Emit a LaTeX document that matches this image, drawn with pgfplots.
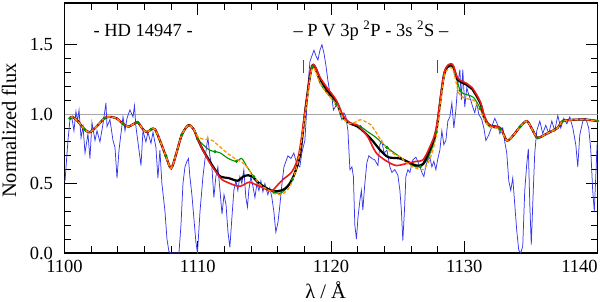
\documentclass[border=0pt]{standalone}
\usepackage{fontspec}
\setmainfont{Liberation Serif}
\usepackage{pgfplots}
\pgfplotsset{compat=1.18}
\definecolor{obsblue}{RGB}{55,55,235}
\definecolor{modred}{RGB}{235,25,25}
\definecolor{modgreen}{RGB}{0,145,0}
\definecolor{modorange}{RGB}{255,150,0}
\newcommand{\fs}{\fontsize{18.5bp}{21bp}\selectfont}
\newcommand{\fl}{\fontsize{20.5bp}{23bp}\selectfont}
\begin{document}
\begin{tikzpicture}
\begin{axis}[
  scale only axis, width=533bp, height=250bp,
  xmin=1100, xmax=1140, ymin=0, ymax=1.8,
  xtick={1100,1110,1120,1130}, minor x tick num=4,
  extra x ticks={1140}, extra x tick labels={1140},
  extra x tick style={tick label style={xshift=-18bp}},
  ytick={0,0.5,1.0,1.5}, minor y tick num=4,
  tick align=inside, tick pos=both,
  major tick length=12bp, minor tick length=6.5bp,
  every tick/.style={black, line width=0.9bp},
  axis line style={line width=1.1bp},
  /pgf/number format/assume math mode=true,
  /pgf/number format/1000 sep={},
  yticklabel style={/pgf/number format/fixed, /pgf/number format/precision=1, /pgf/number format/fixed zerofill, font=\fs, xshift=-8bp},
  xticklabel style={font=\fs, yshift=-4bp},
  xlabel={λ / Å}, ylabel={Normalized flux},
  every axis x label/.style={at={(axis description cs:0.49,0)}, anchor=center, yshift=-37bp, font=\fl},
  every axis y label/.style={at={(axis description cs:-0.104,0.49)}, anchor=center, rotate=90, font=\fl},
]
% continuum
\addplot[gray!70, line width=0.7bp] coordinates {(1100,1) (1140,1)};
% line markers
\addplot[gray!60!black, line width=0.7bp] coordinates {(1117.96,1.295) (1117.96,1.39)};
\addplot[gray!60!black, line width=0.7bp] coordinates {(1128.0,1.295) (1128.0,1.39)};
% observed
\addplot[obsblue, line width=0.75bp] coordinates {
(1100.04,0.52) (1100.26,0.81) (1100.41,0.96) (1100.56,0.97) (1100.71,0.88) (1100.86,1.02) (1100.98,0.95) (1101.09,1.03)
(1101.24,0.83) (1101.39,0.91) (1101.54,0.72) (1101.76,0.86) (1101.91,0.68) (1102.06,0.94) (1102.29,0.81) (1102.44,0.88)
(1102.66,0.80) (1102.89,0.93) (1103.11,1.08) (1103.19,0.91) (1103.41,0.96) (1103.64,0.81) (1103.79,0.76) (1103.94,0.54)
(1104.09,0.74) (1104.20,0.83) (1104.39,0.98) (1104.54,0.88) (1104.69,0.97) (1104.91,1.03) (1105.14,0.98) (1105.25,1.06)
(1105.36,0.91) (1105.51,0.80) (1105.74,0.63) (1105.89,0.88) (1106.11,0.80) (1106.26,0.87) (1106.49,0.79) (1106.64,0.87)
(1106.86,0.76) (1107.01,0.54) (1107.16,0.74) (1107.31,0.50) (1107.54,0.30) (1107.69,0.10) (1107.84,0.01) (1107.99,0.0)
(1108.29,0.0) (1108.59,0.0) (1108.74,0.2) (1108.89,0.50) (1109.04,0.62) (1109.19,0.66) (1109.30,0.68) (1109.41,0.55)
(1109.56,0.42) (1109.71,0.25) (1109.86,0.08) (1109.98,0.0) (1110.17,0.30) (1110.39,0.55) (1110.61,0.73) (1110.76,0.83)
(1110.91,0.70) (1111.06,0.62) (1111.21,0.40) (1111.36,0.55) (1111.51,0.62) (1111.67,0.45) (1111.82,0.28) (1111.97,0.42)
(1112.12,0.35) (1112.27,0.15) (1112.41,0.04) (1112.56,0.25) (1112.71,0.45) (1112.86,0.52) (1113.01,0.45) (1113.16,0.55)
(1113.31,0.50) (1113.46,0.60) (1113.61,0.40) (1113.73,0.33) (1113.84,0.46) (1113.99,0.55) (1114.14,0.48) (1114.29,0.40)
(1114.44,0.50) (1114.59,0.45) (1114.74,0.52) (1114.89,0.44) (1115.04,0.50) (1115.26,0.42) (1115.41,0.47) (1115.56,0.40)
(1115.71,0.30) (1115.86,0.15) (1116.02,0.22) (1116.17,0.35) (1116.32,0.50) (1116.47,0.62) (1116.62,0.66) (1116.77,0.70)
(1116.99,0.68) (1117.21,0.72) (1117.44,0.64) (1117.66,0.62) (1117.81,0.72) (1118.04,0.81) (1118.19,1.05) (1118.30,1.24)
(1118.42,1.38) (1118.57,1.42) (1118.72,1.46) (1118.87,1.42) (1119.02,1.39) (1119.17,1.46) (1119.32,1.50) (1119.47,1.44)
(1119.62,1.35) (1119.77,1.24) (1119.92,1.15) (1120.07,1.12) (1120.18,1.03) (1120.37,1.06) (1120.52,1.05) (1120.67,1.00)
(1120.82,0.96) (1120.97,1.01) (1121.12,0.98) (1121.27,0.88) (1121.42,0.60) (1121.57,0.62) (1121.68,0.55) (1121.79,0.20)
(1121.91,0.10) (1122.02,0.25) (1122.17,0.38) (1122.28,0.45) (1122.39,0.31) (1122.54,0.50) (1122.69,0.65) (1122.84,0.70)
(1123.07,0.68) (1123.29,0.67) (1123.52,0.63) (1123.67,0.78) (1123.82,0.81) (1123.97,0.72) (1124.20,0.74) (1124.42,0.62)
(1124.57,0.58) (1124.79,0.60) (1125.02,0.56) (1125.17,0.45) (1125.28,0.31) (1125.39,0.09) (1125.51,0.30) (1125.62,0.55)
(1125.77,0.60) (1125.92,0.58) (1126.14,0.67) (1126.37,0.69) (1126.59,0.64) (1126.82,0.58) (1126.97,0.55) (1127.12,0.63)
(1127.27,0.67) (1127.42,0.69) (1127.57,0.62) (1127.72,0.66) (1127.87,0.60) (1128.02,0.68) (1128.17,0.74) (1128.32,0.88)
(1128.47,0.78) (1128.62,0.81) (1128.77,0.95) (1128.92,0.98) (1129.07,1.08) (1129.22,0.90) (1129.37,1.03) (1129.52,1.22)
(1129.67,1.32) (1129.78,1.10) (1129.89,1.32) (1130.04,1.05) (1130.19,1.19) (1130.34,1.14) (1130.49,1.10) (1130.64,1.05)
(1130.79,1.01) (1130.94,1.08) (1131.09,1.00) (1131.32,0.96) (1131.47,0.90) (1131.62,0.81) (1131.84,0.85) (1132.07,0.91)
(1132.29,0.97) (1132.52,0.92) (1132.67,0.86) (1132.89,0.90) (1133.04,0.80) (1133.19,0.72) (1133.34,0.52) (1133.49,0.45)
(1133.64,0.54) (1133.79,0.35) (1133.94,0.16) (1134.09,0.02) (1134.24,0.0) (1134.39,0.05) (1134.54,0.45) (1134.69,0.64)
(1134.81,0.75) (1134.92,0.35) (1135.03,0.06) (1135.14,0.35) (1135.29,0.72) (1135.44,0.88) (1135.67,0.95) (1135.89,0.86)
(1136.12,0.92) (1136.34,0.86) (1136.57,0.95) (1136.79,0.88) (1137.02,0.99) (1137.24,0.90) (1137.47,0.97) (1137.70,0.93)
(1137.92,0.98) (1138.15,0.90) (1138.37,0.78) (1138.52,0.62) (1138.67,0.85) (1138.90,0.95) (1139.12,0.97) (1139.34,0.90)
(1139.49,0.75) (1139.64,0.45) (1139.76,0.30) (1139.87,0.55) (1139.98,0.80)
};
% green model
\addplot[modgreen, line width=1.1bp, smooth, mark=*, mark size=1bp, mark repeat=3] coordinates {
(1100.4,0.97) (1100.6,0.98) (1101.0,0.95) (1101.5,0.89) (1101.9,0.87) (1102.4,0.91) (1103.0,0.97) (1103.4,0.98)
(1103.9,0.97) (1104.4,0.93) (1104.8,0.91) (1105.2,0.93) (1105.5,0.94) (1105.9,0.89) (1106.2,0.87) (1106.5,0.89)
(1106.8,0.89) (1107.2,0.80) (1107.6,0.70) (1108.0,0.61) (1108.4,0.72) (1108.8,0.85) (1109.3,0.92) (1109.7,0.89)
(1110.0,0.82) (1110.4,0.78) (1110.9,0.74) (1111.3,0.73) (1111.7,0.72) (1112.3,0.68) (1112.9,0.66) (1113.3,0.68)
(1113.7,0.62) (1114.2,0.55) (1114.7,0.50) (1115.2,0.47) (1115.7,0.44) (1116.2,0.43) (1116.7,0.47) (1117.1,0.53)
(1117.6,0.70) (1118.1,1.03) (1118.6,1.34) (1119.2,1.22) (1119.7,1.15) (1120.4,1.07) (1120.9,0.97) (1121.4,0.93)
(1122.2,0.91) (1122.8,0.87) (1123.4,0.83) (1124.2,0.76) (1125.2,0.69) (1126.1,0.63) (1126.7,0.62) (1127.2,0.67)
(1127.6,0.76) (1127.9,0.87) (1128.5,1.28) (1129.1,1.34) (1129.7,1.17) (1130.2,1.14) (1130.7,1.12) (1131.2,1.04)
(1131.5,0.96) (1131.9,0.91) (1132.7,0.89) (1133.2,0.81) (1133.7,0.85) (1134.2,0.91) (1134.7,0.95) (1135.1,0.89)
(1135.5,0.83) (1136.2,0.86) (1137.0,0.90) (1137.4,0.95) (1138.4,0.96) (1139.2,0.96) (1140.0,0.95)
};
% black model
\addplot[black, line width=2.2bp, smooth] coordinates {
(1100.4,0.97) (1100.6,0.98) (1101.0,0.95) (1101.5,0.89) (1101.9,0.87) (1102.4,0.91) (1103.0,0.97) (1103.4,0.98)
(1103.9,0.97) (1104.4,0.93) (1104.8,0.91) (1105.2,0.93) (1105.5,0.94) (1105.9,0.89) (1106.2,0.87) (1106.5,0.89)
(1106.8,0.89) (1107.2,0.80) (1107.6,0.70) (1108.0,0.61) (1108.4,0.72) (1108.8,0.85) (1109.3,0.92) (1109.7,0.89)
(1110.0,0.82) (1110.4,0.74) (1110.9,0.66) (1111.3,0.60) (1111.7,0.55) (1112.3,0.54) (1113.0,0.52) (1113.4,0.55)
(1113.8,0.56) (1114.1,0.55) (1114.5,0.51) (1114.9,0.48) (1115.5,0.45) (1116.0,0.445) (1116.5,0.46) (1116.9,0.50)
(1117.3,0.58) (1117.7,0.72) (1118.1,1.05) (1118.6,1.35) (1119.2,1.25) (1119.7,1.17) (1120.4,1.09) (1120.9,0.98)
(1121.4,0.935) (1122.0,0.91) (1122.5,0.87) (1123.1,0.81) (1123.7,0.74) (1124.3,0.69) (1125.2,0.68) (1125.9,0.65)
(1126.4,0.63) (1126.9,0.64) (1127.4,0.74) (1127.9,0.88) (1128.5,1.29) (1129.1,1.35) (1129.5,1.25) (1130.2,1.21)
(1130.6,1.18) (1131.2,1.08) (1131.5,0.98) (1131.9,0.92) (1132.7,0.90) (1133.2,0.81) (1133.7,0.85) (1134.2,0.91)
(1134.7,0.95) (1135.1,0.89) (1135.5,0.83) (1136.2,0.86) (1137.0,0.90) (1137.4,0.95) (1138.4,0.96) (1139.2,0.96) (1140.0,0.95)
};
% red model
\addplot[modred, line width=1.6bp, smooth] coordinates {
(1100.4,0.97) (1100.6,0.98) (1101.0,0.95) (1101.5,0.89) (1101.9,0.87) (1102.4,0.91) (1103.0,0.97) (1103.4,0.98)
(1103.9,0.97) (1104.4,0.93) (1104.8,0.91) (1105.2,0.93) (1105.5,0.94) (1105.9,0.89) (1106.2,0.87) (1106.5,0.89)
(1106.8,0.89) (1107.2,0.80) (1107.6,0.70) (1108.0,0.61) (1108.4,0.72) (1108.8,0.85) (1109.3,0.92) (1109.7,0.89)
(1110.0,0.82) (1110.4,0.74) (1110.9,0.65) (1111.4,0.58) (1111.8,0.53) (1112.2,0.51) (1112.7,0.49) (1113.2,0.48)
(1113.6,0.50) (1113.9,0.51) (1114.4,0.49) (1114.9,0.47) (1115.3,0.45) (1115.6,0.45) (1116.0,0.49) (1116.4,0.53)
(1117.1,0.59) (1117.6,0.72) (1118.1,1.05) (1118.6,1.35) (1119.2,1.26) (1119.7,1.19) (1120.4,1.10) (1120.9,0.99)
(1121.4,0.94) (1122.0,0.92) (1122.4,0.88) (1122.8,0.83) (1123.4,0.72) (1124.2,0.66) (1124.9,0.63) (1125.7,0.645)
(1126.4,0.66) (1126.9,0.67) (1127.4,0.76) (1127.9,0.90) (1128.5,1.30) (1129.1,1.36) (1129.5,1.26) (1130.2,1.22)
(1130.6,1.19) (1131.2,1.09) (1131.5,0.99) (1131.9,0.92) (1132.7,0.90) (1133.2,0.81) (1133.7,0.85) (1134.2,0.91)
(1134.7,0.95) (1135.1,0.89) (1135.5,0.83) (1136.2,0.86) (1137.0,0.90) (1137.4,0.95) (1138.4,0.96) (1139.2,0.96) (1140.0,0.95)
};
% orange dashed model
\addplot[modorange, line width=1.3bp, smooth, dash pattern=on 3.5bp off 2bp] coordinates {
(1100.4,0.97) (1100.6,0.98) (1101.0,0.95) (1101.5,0.89) (1101.9,0.87) (1102.4,0.91) (1103.0,0.97) (1103.4,0.98)
(1103.9,0.97) (1104.4,0.93) (1104.8,0.91) (1105.2,0.93) (1105.5,0.94) (1105.9,0.89) (1106.2,0.87) (1106.5,0.89)
(1106.8,0.89) (1107.2,0.80) (1107.6,0.70) (1108.0,0.61) (1108.4,0.72) (1108.8,0.85) (1109.3,0.92) (1109.7,0.89)
(1110.0,0.84) (1110.4,0.82) (1110.8,0.82) (1111.1,0.81) (1111.6,0.77) (1112.2,0.72) (1112.8,0.68) (1113.2,0.66)
(1113.6,0.63) (1114.2,0.55) (1114.7,0.49) (1115.2,0.46) (1115.7,0.43) (1116.2,0.42) (1116.7,0.45) (1117.1,0.52)
(1117.6,0.69) (1118.1,1.02) (1118.6,1.33) (1119.2,1.22) (1119.7,1.15) (1120.4,1.07) (1120.9,0.97) (1121.4,0.93)
(1121.8,0.94) (1122.2,0.96) (1122.7,0.94) (1123.1,0.91) (1123.9,0.79) (1124.6,0.72) (1125.2,0.69) (1125.8,0.64)
(1126.4,0.61) (1126.9,0.60) (1127.3,0.65) (1127.7,0.76) (1128.0,0.90) (1128.5,1.27) (1129.1,1.33) (1129.6,1.15)
(1130.2,1.11) (1130.7,1.10) (1131.2,1.03) (1131.5,0.96) (1131.9,0.91) (1132.7,0.89) (1133.2,0.81) (1133.7,0.85)
(1134.2,0.91) (1134.7,0.95) (1135.1,0.89) (1135.5,0.83) (1136.2,0.86) (1137.0,0.90) (1137.4,0.95) (1138.4,0.96)
(1139.2,0.96) (1140.0,0.95)
};
\node[font=\fs, anchor=center] at (axis cs:1105.9,1.6) {- HD 14947 -};
\node[font=\fs, anchor=center] at (axis cs:1123.0,1.6) {– P V 3p \textsuperscript{2}P - 3s \textsuperscript{2}S –};
\end{axis}
\pgfresetboundingbox
\path ([xshift=-64.5bp,yshift=-49bp]current axis.south west) rectangle ([xshift=2.5bp,yshift=3bp]current axis.north east);
\end{tikzpicture}
\end{document}
